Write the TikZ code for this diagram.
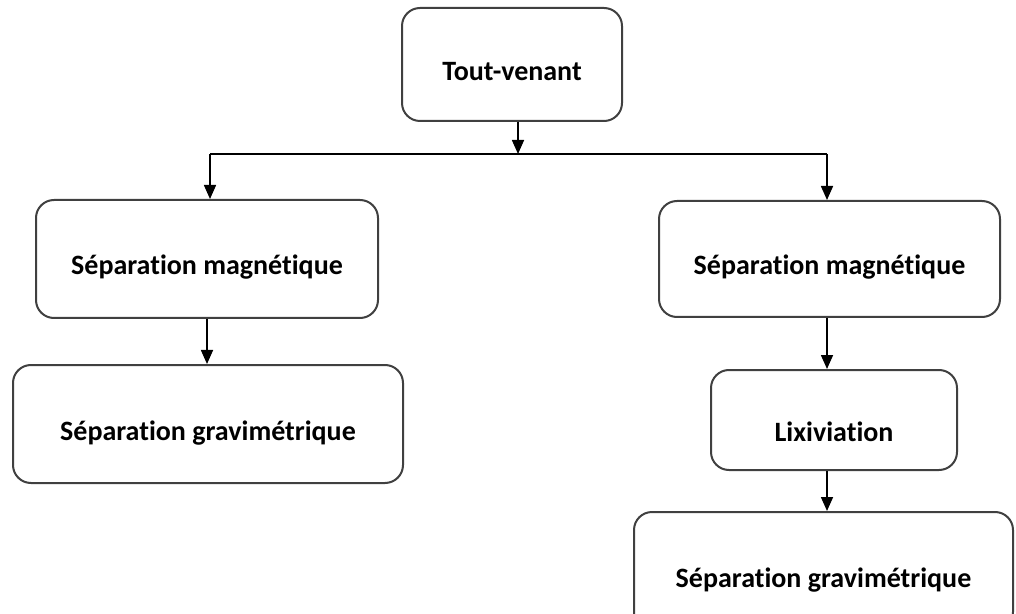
\documentclass[tikz,border=0pt]{standalone}
\usepackage{fontspec}
\setmainfont{Carlito}[Ligatures={NoCommon}]
\usetikzlibrary{arrows.meta}

\tikzset{
  etape/.style={draw=black!75, line width=1pt, rounded corners=9pt, align=center,
    font=\fontsize{14}{17}\selectfont\bfseries, text height=1.85em, text depth=0.25em, inner sep=0pt},
  fleche/.style={-{Triangle[length=7pt,width=6pt]}, line width=0.8pt}
}

\begin{document}
\begin{tikzpicture}[x=0.5pt, y=-0.5pt]
\useasboundingbox (0,0) rectangle (1016,614);

% boxes
\node[etape, minimum width=110pt, minimum height=56.5pt] (tv) at (512,64.5) {Tout-venant};
\node[etape, minimum width=171pt, minimum height=59pt] (sm1) at (207,259) {Séparation magnétique};
\node[etape, minimum width=195pt, minimum height=59pt] (sg1) at (208,424) {Séparation gravimétrique};
\node[etape, minimum width=170.5pt, minimum height=58pt] (sm2) at (829.5,259) {Séparation magnétique};
\node[etape, minimum width=123pt, minimum height=50pt, text height=2.4em] (lix) at (834,420) {Lixiviation};
\node[etape, minimum width=189.5pt, minimum height=59pt] (sg2) at (823.5,571) {Séparation gravimétrique};

% bus
\coordinate (bus) at (518,154);
\coordinate (busL) at (210,154);
\coordinate (busR) at (827,154);

% arrows
\draw[fleche] (tv.south -| bus) -- (bus);
\draw[line width=0.8pt] (busL) -- (busR);
\draw[fleche] (busL) -- (busL |- sm1.north);
\draw[fleche] (busR) -- (busR |- sm2.north);
\draw[fleche] (sm1.south) -- (sm1.south |- sg1.north);
\draw[fleche] (busR |- sm2.south) -- (busR |- lix.north);
\draw[fleche] (busR |- lix.south) -- (busR |- sg2.north);

\end{tikzpicture}
\end{document}
